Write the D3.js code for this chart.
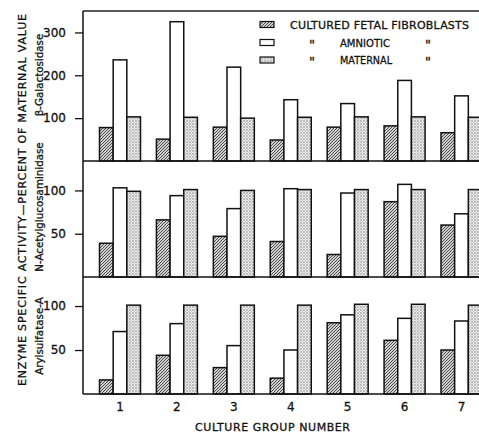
<!DOCTYPE html>
<html><head><meta charset="utf-8">
<script src="https://cdn.jsdelivr.net/npm/d3@7"></script>
<style>
body{margin:0;background:#fff}
svg{display:block}
text{font-family:"DejaVu Sans",sans-serif;fill:#111;stroke:#111;stroke-width:0.3px}
</style>
</head><body>
<svg id="c" width="479" height="433"></svg>
<script>
// ---- data ----
const groups = ["1","2","3","4","5","6","7"];
const seriesKeys = ["fetal","amniotic","maternal"];
const legendLabels = ["CULTURED FETAL FIBROBLASTS","AMNIOTIC","MATERNAL"];
const enzymeLabels = ["β-Galactosidase","N-Acetylglucosaminidase","Arylsulfatase-A"];
const galFetal    = [78,51,79,49,79,82,66];
const galAmniotic = [236,325,219,143,134,188,152];
const galMaternal = [103,102,100,102,103,103,102];
const nagFetal    = [39,66,47,41,26,87,60];
const nagAmniotic = [103,94,79,102,97,107,73];
const nagMaternal = [99,101,100,101,101,101,101];
const arsFetal    = [16,44,30,18,81,61,50];
const arsAmniotic = [71,80,55,50,90,86,83];
const arsMaternal = [101,101,101,101,102,102,101];
const galTicks = [100,200,300];
const nagTicks = [50,100];
const arsTicks = [50,100];
const yTitle = "ENZYME SPECIFIC ACTIVITY—PERCENT OF MATERNAL VALUE";
const xTitle = "CULTURE GROUP NUMBER";

// ---- layout ----
const svg = d3.select("#c");
const left = 83, right = 479;
const panels = [
  {label: enzymeLabels[0], top: 11,  bottom: 161, max: 350, ticks: galTicks,
   data: [galFetal, galAmniotic, galMaternal], labelY: 75},
  {label: enzymeLabels[1], top: 161, bottom: 277, max: 134, ticks: nagTicks,
   data: [nagFetal, nagAmniotic, nagMaternal], labelY: 207},
  {label: enzymeLabels[2], top: 277, bottom: 394, max: 133, ticks: arsTicks,
   data: [arsFetal, arsAmniotic, arsMaternal], labelY: 336}
];

const defs = svg.append("defs");
const hatch = defs.append("pattern").attr("id","hatch").attr("patternUnits","userSpaceOnUse")
  .attr("width",3).attr("height",3);
hatch.append("rect").attr("width",3).attr("height",3).attr("fill","#d0d0d0");
hatch.append("path").attr("d","M-1,1 L1,-1 M0,3 L3,0 M2,4 L4,2").attr("stroke","#333").attr("stroke-width",0.85);
const dots = defs.append("pattern").attr("id","dots").attr("patternUnits","userSpaceOnUse")
  .attr("width",3).attr("height",3);
dots.append("rect").attr("width",3).attr("height",3).attr("fill","#ebebeb");
dots.append("circle").attr("cx",1).attr("cy",1).attr("r",0.65).attr("fill","#666");
dots.append("circle").attr("cx",2.5).attr("cy",2.5).attr("r",0.45).attr("fill","#999");
const fills = {fetal: "url(#hatch)", amniotic: "#fff", maternal: "url(#dots)"};

const x0 = d3.scalePoint().domain(groups).range([120, 461.5]);
const x1 = d3.scaleBand().domain(seriesKeys).range([-20.5, 20.5]);

panels.forEach(p => {
  const y = d3.scaleLinear().domain([0, p.max]).range([p.bottom, p.top]);
  const g = svg.append("g");
  seriesKeys.forEach((k, si) => {
    g.selectAll(null).data(p.data[si]).join("rect")
      .attr("x", (d, i) => x0(groups[i]) + x1(k))
      .attr("width", x1.bandwidth())
      .attr("y", d => y(d))
      .attr("height", d => y(0) - y(d))
      .attr("fill", fills[k])
      .attr("stroke", "#111").attr("stroke-width", 1.5);
  });
  const ax = svg.append("g").attr("transform", `translate(${left},0)`)
    .call(d3.axisLeft(y).tickValues(p.ticks).tickSize(8).tickPadding(9));
  ax.select(".domain").remove();
  ax.selectAll(".tick line").attr("stroke","#111").attr("stroke-width",1.3);
  ax.selectAll(".tick text").style("font-family","'DejaVu Sans',sans-serif")
    .style("font-size","12px").attr("fill","#111");
  svg.append("text")
    .attr("transform", `translate(43,${p.labelY}) rotate(-90)`)
    .attr("text-anchor","middle").style("font-size","10.3px")
    .text(p.label);
  svg.append("line").attr("x1",left).attr("x2",right)
    .attr("y1",p.bottom).attr("y2",p.bottom).attr("stroke","#111").attr("stroke-width",1.5);
});

// frame
svg.append("line").attr("x1",left).attr("x2",right).attr("y1",11).attr("y2",11)
  .attr("stroke","#222").attr("stroke-width",1.3);
svg.append("line").attr("x1",left).attr("x2",left).attr("y1",11).attr("y2",394)
  .attr("stroke","#111").attr("stroke-width",1.5);

// x labels
svg.selectAll(".xl").data(groups).join("text")
  .attr("x", d => x0(d)).attr("y", 411).attr("text-anchor","middle")
  .style("font-size","12px").text(d => d);
svg.append("text").attr("x",272.5).attr("y",431).attr("text-anchor","middle")
  .attr("textLength",155).attr("lengthAdjust","spacing")
  .style("font-size","11px").text(xTitle);

// y title
svg.append("text").attr("transform","translate(26,200) rotate(-90)")
  .attr("text-anchor","middle").attr("textLength",372).attr("lengthAdjust","spacing")
  .style("font-size","11px").text(yTitle);

// legend
const legY = [24.5, 42.5, 60];
seriesKeys.forEach((k, i) => {
  svg.append("rect").attr("x",260).attr("y",legY[i]-3).attr("width",14).attr("height",6)
    .attr("fill",fills[k]).attr("stroke","#111").attr("stroke-width",1.2);
});
svg.append("text").attr("x",290).attr("y",legY[0]+4).attr("textLength",179)
  .attr("lengthAdjust","spacing").style("font-size","11px").text(legendLabels[0]);
[1,2].forEach(i => {
  svg.append("text").attr("x",312).attr("y",legY[i]+6).attr("text-anchor","middle")
    .style("font-size","13px").text("\"");
  svg.append("text").attr("x",340).attr("y",legY[i]+4)
    .attr("textLength", i === 1 ? 50 : 52).attr("lengthAdjust","spacingAndGlyphs")
    .style("font-size","11px").text(legendLabels[i]);
  svg.append("text").attr("x",428).attr("y",legY[i]+6).attr("text-anchor","middle")
    .style("font-size","13px").text("\"");
});
</script>
</body></html>
